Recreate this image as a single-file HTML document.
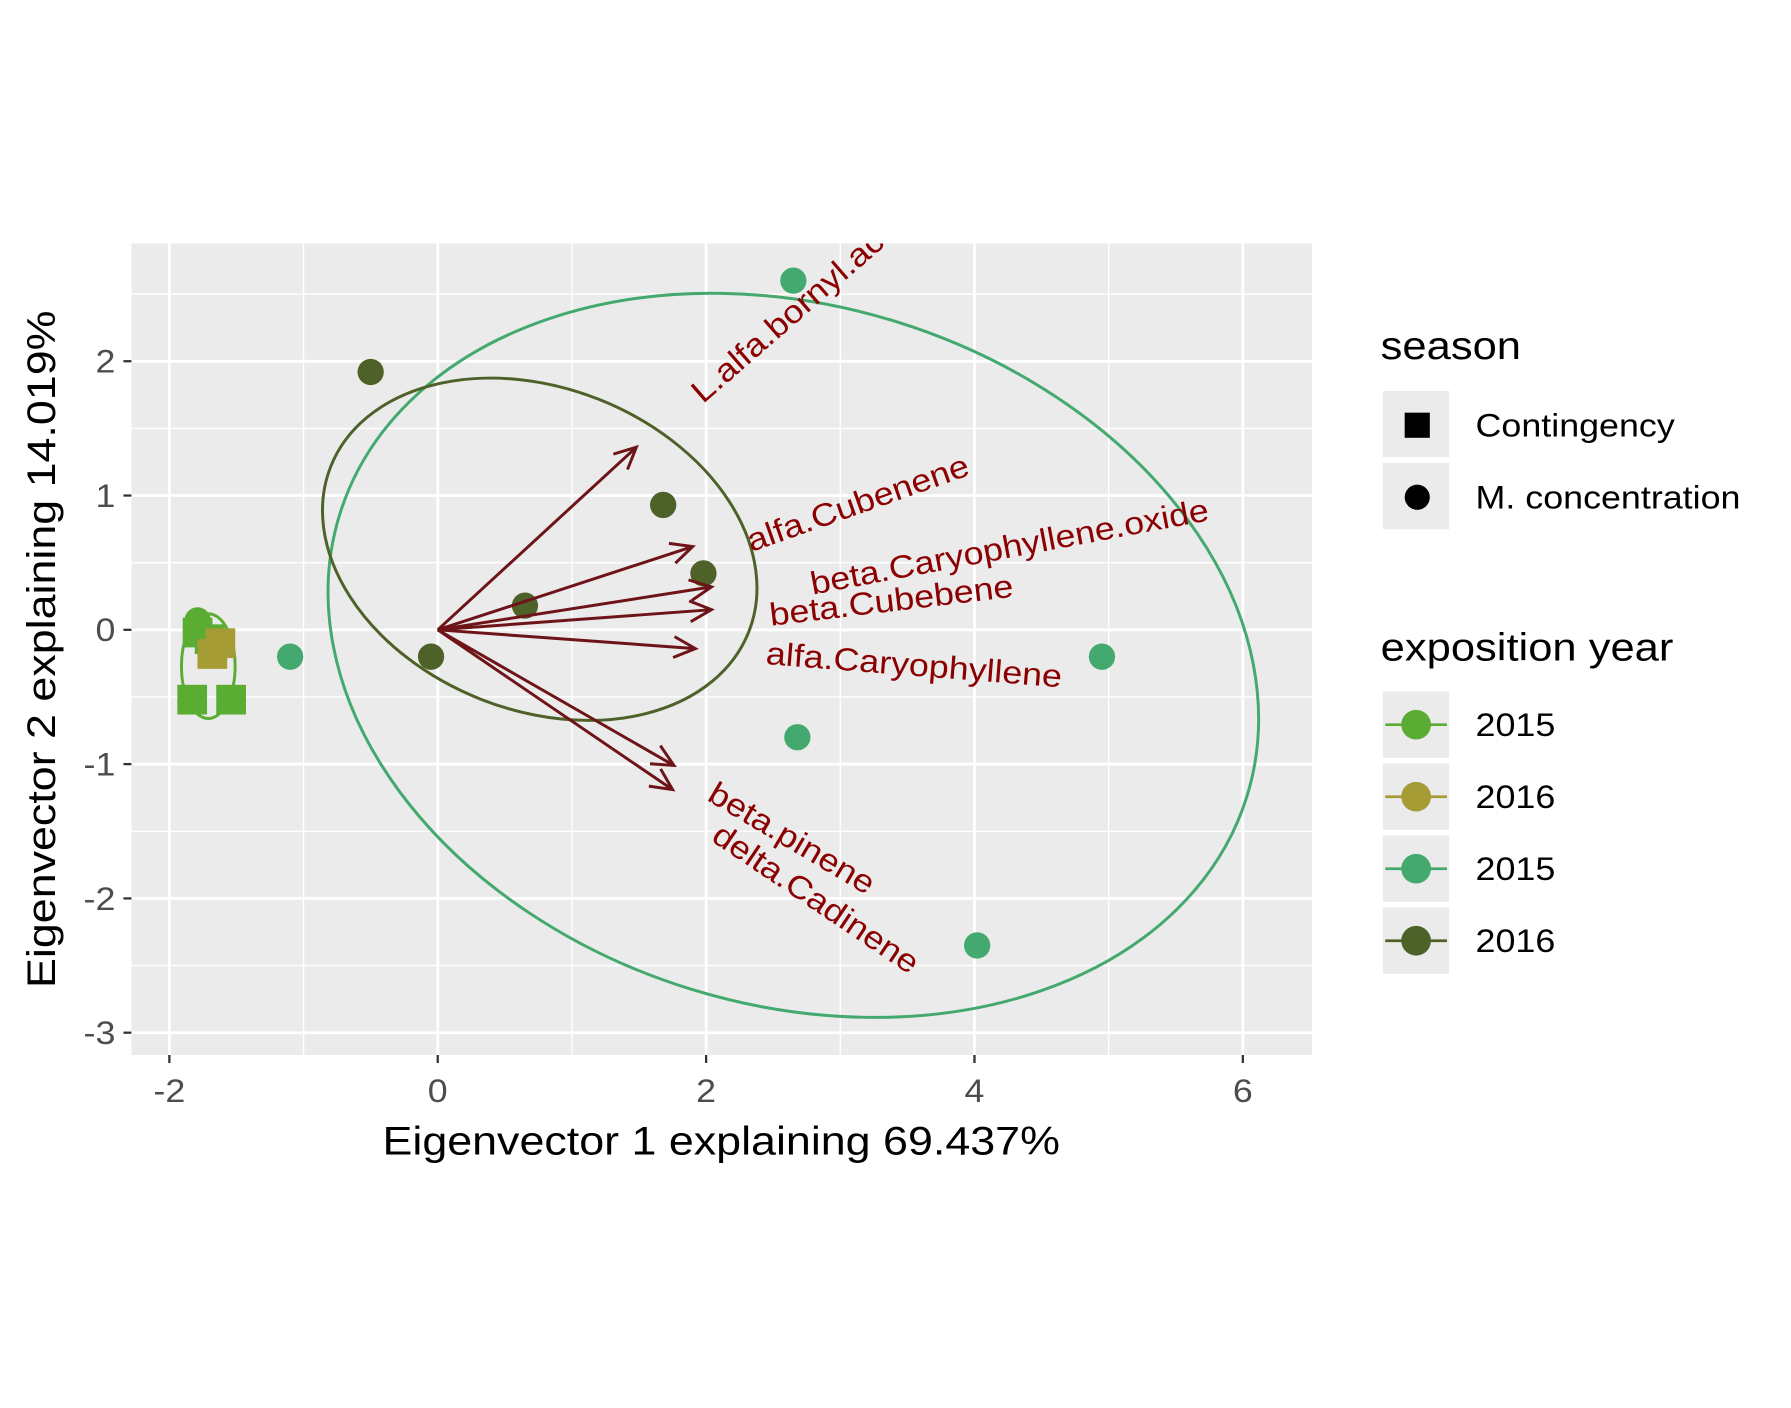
<!DOCTYPE html>
<html><head><meta charset="utf-8"><style>html,body{margin:0;padding:0;background:#fff}svg{display:block}text{font-family:"Liberation Sans",Arial,sans-serif}</style></head>
<body>
<svg id="chart" width="1791" height="1408" viewBox="0 0 1567 1231.8" xmlns="http://www.w3.org/2000/svg">
<defs><clipPath id="clip"><rect x="115" y="213" width="1033" height="710"/></clipPath></defs>
<rect x="0" y="0" width="1567" height="1231.8" fill="#fff"/>
<rect x="115" y="213" width="1033" height="710" fill="#ebebeb"/>
<g id="grid"></g>
<g id="layer" clip-path="url(#clip)"></g>
<g id="axes"></g>
<text x="631" y="1010" font-size="35" text-anchor="middle" fill="#000">Eigenvector 1 explaining 69.437%</text>
<text transform="translate(48,568) rotate(-90)" font-size="35" text-anchor="middle" fill="#000">Eigenvector 2 explaining 14.019%</text>
<g>
<text x="1208" y="314" font-size="34" fill="#000">season</text>
<rect x="1210" y="342" width="58" height="58" fill="#ebebeb"/>
<rect x="1229" y="361" width="22" height="22" fill="#000"/>
<text x="1291" y="382" font-size="28" fill="#000">Contingency</text>
<rect x="1210" y="405" width="58" height="58" fill="#ebebeb"/>
<circle cx="1240" cy="435" r="11" fill="#000"/>
<text x="1291" y="445" font-size="28" fill="#000">M. concentration</text>
<text x="1208" y="578" font-size="34" fill="#000">exposition year</text>
<g id="yearLegend"></g>
</g>
</svg>
<script>
const xTicks=[-2,0,2,4,6];
const yTicks=[-3,-2,-1,0,1,2];
const groupNames=["2015 Contingency","2016 Contingency","2015 M. concentration","2016 M. concentration"];
const groupColors=["#5aac33","#a59c35","#43a96f","#4d6128"];
const yearLabels=["2015","2016","2015","2016"];
const ptX=[-1.79,-1.7,-1.83,-1.54,-1.79,-1.62,-1.68,  2.65,-1.1,4.95,2.68,4.02,  -0.5,1.68,1.98,0.65,-0.05];
const ptY=[-0.02,-0.07,-0.52,-0.52,0.07,-0.1,-0.18,  2.6,-0.2,-0.2,-0.8,-2.35,  1.92,0.93,0.42,0.18,-0.2];
const ptG=[0,0,0,0,0,1,1,  2,2,2,2,2,  3,3,3,3,3];
const ptShape=["s","s","s","s","c","s","s", "c","c","c","c","c", "c","c","c","c","c"];
const ellCX=[-1.71,2.65,0.76];
const ellCY=[-0.27,-0.19,0.60];
const ellA=[0.2,3.54,1.675];
const ellB=[0.39,2.60,1.20];
const ellRot=[0,17.3,21.6];
const ellG=[0,2,3];
const varNames=["L.alfa.bornyl.acetate","alfa.Cubenene","beta.Caryophyllene.oxide","beta.Cubebene","alfa.Caryophyllene","beta.pinene","delta.Cadinene"];
const arrX=[1.48,1.90,2.04,2.04,1.92,1.76,1.75];
const arrY=[1.36,0.62,0.32,0.15,-0.14,-1.01,-1.19];
const labX=[2.83,3.13,4.26,3.38,3.55,2.64,2.82];
const labY=[2.53,0.945,0.62,0.22,-0.26,-1.55,-2.0];
const labAng=[-41,-19.4,-10.6,-6.8,4.5,30.7,34];

const PX0=383, PXU=117.4, PY0=551, PYU=117.5;
const sx=v=>PX0+v*PXU, sy=v=>PY0-v*PYU;
const NS="http://www.w3.org/2000/svg";
function mk(tag,attrs,parent){const e=document.createElementNS(NS,tag);for(const k in attrs)e.setAttribute(k,attrs[k]);parent.appendChild(e);return e;}
const grid=document.getElementById('grid'),layer=document.getElementById('layer'),axes=document.getElementById('axes');
for(let v=-3;v<=7;v+=2){const x=sx(v);if(x>115&&x<1148){const l=mk('line',{x1:x,x2:x,y1:213,y2:923,stroke:'#fff','stroke-width':1.2},grid);}}
for(let v=-3.5;v<=3;v+=1){const y=sy(v);if(y>213&&y<923){const l=mk('line',{x1:115,x2:1148,y1:y,y2:y,stroke:'#fff','stroke-width':1.2},grid);}}
xTicks.forEach(v=>{const x=sx(v);
const g=mk('line',{x1:x,x2:x,y1:213,y2:923,stroke:'#fff','stroke-width':2.4},grid);
const t=mk('line',{x1:x,x2:x,y1:923,y2:930,stroke:'#333','stroke-width':2},axes);
const tx=mk('text',{x:x,y:964,'font-size':28,'text-anchor':'middle',fill:'#4d4d4d'},axes);tx.textContent=v;});
yTicks.forEach(v=>{const y=sy(v);
const g=mk('line',{x1:115,x2:1148,y1:y,y2:y,stroke:'#fff','stroke-width':2.4},grid);
const t=mk('line',{x1:108,x2:115,y1:y,y2:y,stroke:'#333','stroke-width':2},axes);
const tx=mk('text',{x:101,y:y+10,'font-size':28,'text-anchor':'end',fill:'#4d4d4d'},axes);tx.textContent=v;});
ellCX.forEach((c,i)=>{const cx=sx(c),cy=sy(ellCY[i]);
const e=mk('ellipse',{cx:cx,cy:cy,rx:ellA[i]*PXU,ry:ellB[i]*PYU,fill:'none',stroke:groupColors[ellG[i]],'stroke-width':2.6,transform:`rotate(${ellRot[i]} ${cx} ${cy})`},layer);

});
ptX.forEach((v,i)=>{const x=sx(v),y=sy(ptY[i]);let e;
if(ptShape[i]==='s'){e=mk('rect',{x:x-13,y:y-13,width:26,height:26,fill:groupColors[ptG[i]]},layer);}
else{e=mk('circle',{cx:x,cy:y,r:11.5,fill:groupColors[ptG[i]]},layer);}

});
varNames.forEach((n,i)=>{const x0=sx(0),y0=sy(0),x1=sx(arrX[i]),y1=sy(arrY[i]);
const ang=Math.atan2(y1-y0,x1-x0),L=21,w=0.45;
const d=`M${x0},${y0}L${x1},${y1}M${x1-L*Math.cos(ang-w)},${y1-L*Math.sin(ang-w)}L${x1},${y1}L${x1-L*Math.cos(ang+w)},${y1-L*Math.sin(ang+w)}`;
const p=mk('path',{d:d,fill:'none',stroke:'#6e1419','stroke-width':2.6},layer);


const lx=sx(labX[i]),ly=sy(labY[i]);
const t=mk('text',{x:lx,y:ly,'font-size':28,'text-anchor':'middle','dominant-baseline':'central',fill:'#8b0000',transform:`rotate(${labAng[i]} ${lx} ${ly})`},layer);t.textContent=n;

});
const yl=document.getElementById('yearLegend');
yearLabels.forEach((lab,i)=>{const top=605+i*63;
const r=mk('rect',{x:1210,y:top,width:58,height:58,fill:'#ebebeb'},yl);
const l=mk('line',{x1:1212,x2:1266,y1:top+29,y2:top+29,stroke:groupColors[i],'stroke-width':2.4},yl);
const c=mk('circle',{cx:1239,cy:top+29,r:13,fill:groupColors[i]},yl);
const t=mk('text',{x:1291,y:top+39,'font-size':28,fill:'#000'},yl);t.textContent=lab;});
document.querySelectorAll('#chart text').forEach(t=>{const len=t.getComputedTextLength();t.setAttribute('textLength',(len*1.12).toFixed(1));t.setAttribute('lengthAdjust','spacingAndGlyphs');});
</script>
</body></html>
